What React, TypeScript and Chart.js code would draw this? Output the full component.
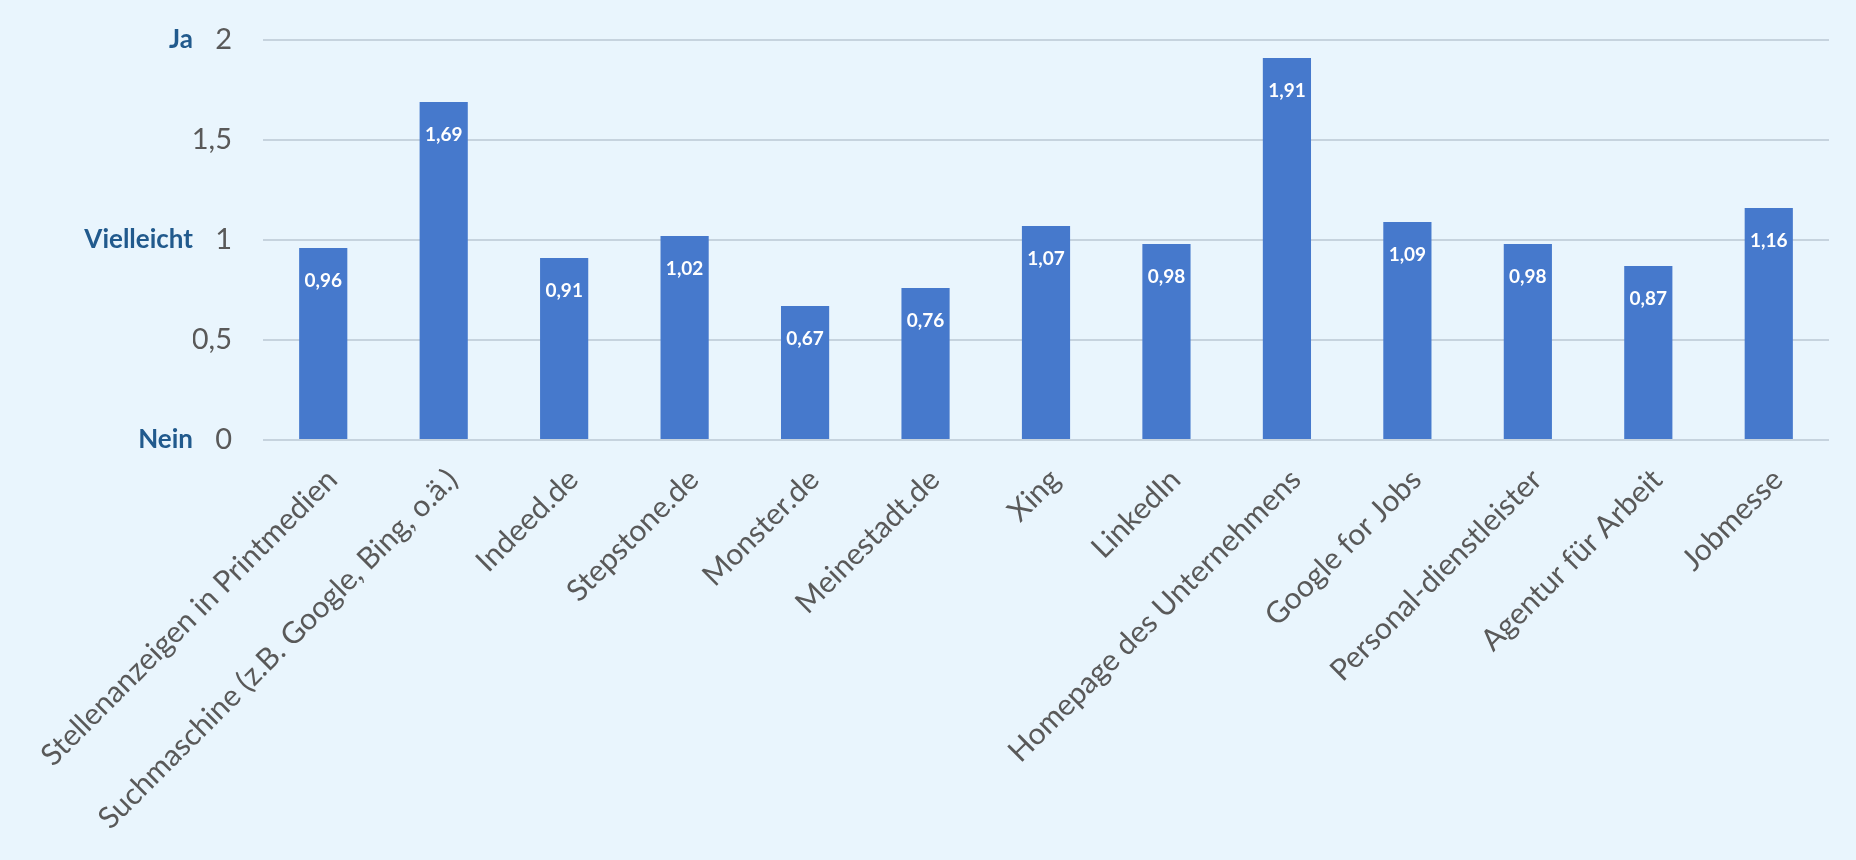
import React, { useEffect, useRef } from 'react';
import { Chart, registerables } from 'chart.js';

Chart.register(...registerables);

// Kanäle der Stellensuche (x-Achse)
const categories = [
  'Stellenanzeigen in Printmedien',
  'Suchmaschine (z.B. Google, Bing, o.ä.)',
  'Indeed.de',
  'Stepstone.de',
  'Monster.de',
  'Meinestadt.de',
  'Xing',
  'LinkedIn',
  'Homepage des Unternehmens',
  'Google for Jobs',
  'Personal-dienstleister',
  'Agentur für Arbeit',
  'Jobmesse',
];

// Mittelwerte (0 = Nein, 1 = Vielleicht, 2 = Ja)
const meanValues = [0.96, 1.69, 0.91, 1.02, 0.67, 0.76, 1.07, 0.98, 1.91, 1.09, 0.98, 0.87, 1.16];

// Tick labels
const numericTicks = [0, 0.5, 1, 1.5, 2];
const answerTicks = [0, 1, 2];
const answerWords = ['Nein', 'Vielleicht', 'Ja'];

const BG = '#e9f5fd';
const BAR = '#4679cc';
const GRID = '#c6d3de';
const TICK = '#595959';
const ANSWER = '#215a8d';

const deComma = (v: number, digits?: number) =>
  (digits === undefined ? String(v) : v.toFixed(digits)).replace('.', ',');

// draws the white value label just inside the top of every bar
const valueLabels = {
  id: 'valueLabels',
  afterDatasetsDraw(chart: any) {
    const { ctx } = chart;
    const meta = chart.getDatasetMeta(0);
    ctx.save();
    ctx.fillStyle = '#ffffff';
    ctx.font = 'bold 19px Lato';
    ctx.textAlign = 'center';
    ctx.textBaseline = 'middle';
    meta.data.forEach((bar: any, i: number) => {
      ctx.fillText(deComma(meanValues[i], 2), bar.x, bar.y + 33);
    });
    ctx.restore();
  },
};

// fixed width for a left axis; drop the tick padding chart.js adds above/below
const fixLeftAxis = (width: number) => (scale: any) => {
  scale.width = width;
  scale.paddingTop = 0;
  scale.paddingBottom = 0;
};

export default function App() {
  const canvasRef = useRef<HTMLCanvasElement>(null);

  useEffect(() => {
    if (!canvasRef.current) return;

    const chart = new Chart(canvasRef.current, {
      type: 'bar',
      data: {
        labels: categories,
        datasets: [
          {
            data: meanValues,
            backgroundColor: BAR,
            borderWidth: 0,
            barPercentage: 0.4,
            categoryPercentage: 1,
          },
        ],
      },
      options: {
        animation: false,
        responsive: true,
        maintainAspectRatio: false,
        layout: { padding: { top: 40, right: 27, bottom: 0, left: 0 } },
        plugins: {
          legend: { display: false },
          tooltip: { enabled: false },
        },
        scales: {
          x: {
            grid: { display: false },
            border: { display: false },
            ticks: {
              color: TICK,
              font: { family: 'Lato', size: 30 },
              minRotation: 45,
              maxRotation: 45,
              autoSkip: false,
              padding: 14,
              labelOffset: 9,
            },
            afterFit: (scale: any) => {
              scale.height = 420;
            },
          },
          y: {
            position: 'left',
            weight: 0,
            min: 0,
            max: 2,
            grid: { color: GRID, lineWidth: 2, drawTicks: false },
            border: { display: false },
            afterBuildTicks: (scale: any) => {
              scale.ticks = numericTicks.map((v) => ({ value: v }));
            },
            ticks: {
              color: TICK,
              font: { family: 'Lato', size: 29 },
              padding: 31,
              callback: (v: any) => deComma(Number(v)),
            },
            afterFit: fixLeftAxis(70),
          },
          answers: {
            type: 'linear',
            position: 'left',
            weight: 1,
            min: 0,
            max: 2,
            grid: { display: false, drawTicks: false },
            border: { display: false },
            afterBuildTicks: (scale: any) => {
              scale.ticks = answerTicks.map((v) => ({ value: v }));
            },
            ticks: {
              color: ANSWER,
              font: { family: 'Lato', size: 26, weight: 'bold' },
              padding: 0,
              callback: (v: any) => {
                const idx = answerTicks.indexOf(Number(v));
                return idx >= 0 ? answerWords[idx] : '';
              },
            },
            afterFit: fixLeftAxis(193),
          },
        },
      } as any,
      plugins: [valueLabels],
    });

    return () => {
      chart.destroy();
    };
  }, []);

  return (
    <div
      style={{
        position: 'fixed',
        left: 0,
        top: 0,
        width: '1856px',
        height: '860px',
        background: BG,
      }}
    >
      <canvas ref={canvasRef} />
    </div>
  );
}
